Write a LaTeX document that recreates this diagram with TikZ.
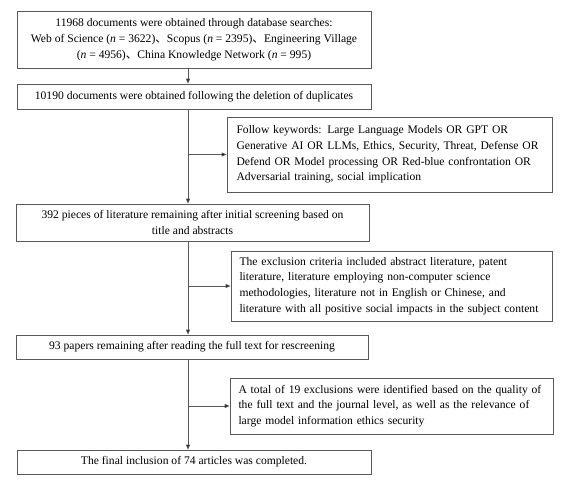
\documentclass[tikz,border=0pt]{standalone}
\usepackage{fontspec}
\setmainfont{Liberation Serif}
\newfontfamily\cjk{Noto Sans CJK SC}
\usetikzlibrary{arrows.meta}
\newcommand{\dn}{{\cjk 、}}
\begin{document}
\begin{tikzpicture}[x=1pt,y=-1pt,
  box/.style={draw=black!65,line width=0.8pt,inner sep=0pt,font=\fontsize{11.6}{15.8}\selectfont},
  side/.style={box,align=left,execute at begin node={\hyphenpenalty=10000\exhyphenpenalty=10000}},
  arr/.style={draw=black!65,line width=0.8pt,-{Triangle[length=5pt,width=4pt,fill=black]}}]
\useasboundingbox (0,0) rectangle (576,483);
\node[box,minimum width=354pt,minimum height=57pt,align=center] (b1) at (194,39.5)
 {11968 documents were obtained through database searches:\\Web of Science (\textit{n} = 3622)\dn Scopus (\textit{n} = 2395)\dn Engineering Village\\(\textit{n} = 4956)\dn China Knowledge Network (\textit{n} = 995)};
\node[box,minimum width=354pt,minimum height=25pt,align=center] (b2) at (194,96.5)
 {10190 documents were obtained following the deletion of duplicates};
\node[side,minimum width=325pt,minimum height=75pt,text width=318pt] (b3) at (389.5,154.5)
 {\hspace*{6pt}Follow keywords: Large Language Models OR GPT OR\\\hspace*{6pt}Generative AI OR LLMs, Ethics, Security, Threat, Defense OR\\\hspace*{6pt}Defend OR Model processing OR Red-blue confrontation OR\\\hspace*{6pt}Adversarial training, social implication};
\node[box,minimum width=353pt,minimum height=37pt,align=center] (b4) at (192.5,222.5)
 {392 pieces of literature remaining after initial screening based on\\title and abstracts};
\node[side,minimum width=321pt,minimum height=70pt,text width=316pt] (b5) at (391.5,286)
 {\hspace*{6pt}The exclusion criteria included abstract literature, patent\\\hspace*{6pt}literature, literature employing non-computer science\\\hspace*{6pt}methodologies, literature not in English or Chinese, and\\\hspace*{6pt}literature with all positive social impacts in the subject content};
\node[box,minimum width=352pt,minimum height=24pt,align=center] (b6) at (192,347)
 {93 papers remaining after reading the full text for rescreening};
\node[side,minimum width=323pt,minimum height=56pt,text width=318pt] (b7) at (391.5,406)
 {\hspace*{6pt}A total of 19 exclusions were identified based on the quality of\\\hspace*{6pt}the full text and the journal level, as well as the relevance of\\\hspace*{6pt}large model information ethics security};
\node[box,minimum width=354pt,minimum height=24pt,align=center] (b8) at (194,462)
 {The final inclusion of 74 articles was completed.};
\coordinate (t) at (188,0);
\draw[arr] (b1.south -| t) -- (b2.north -| t);
\draw[arr] (b2.south -| t) -- (b4.north -| t);
\draw[arr] (b3.west -| t) -- (b3.west);
\draw[arr] (b4.south -| t) -- (b6.north -| t);
\draw[arr] (b5.west -| t) -- (b5.west);
\draw[arr] (b6.south -| t) -- (b8.north -| t);
\draw[arr] (b7.west -| t) -- (b7.west);
\end{tikzpicture}
\end{document}
